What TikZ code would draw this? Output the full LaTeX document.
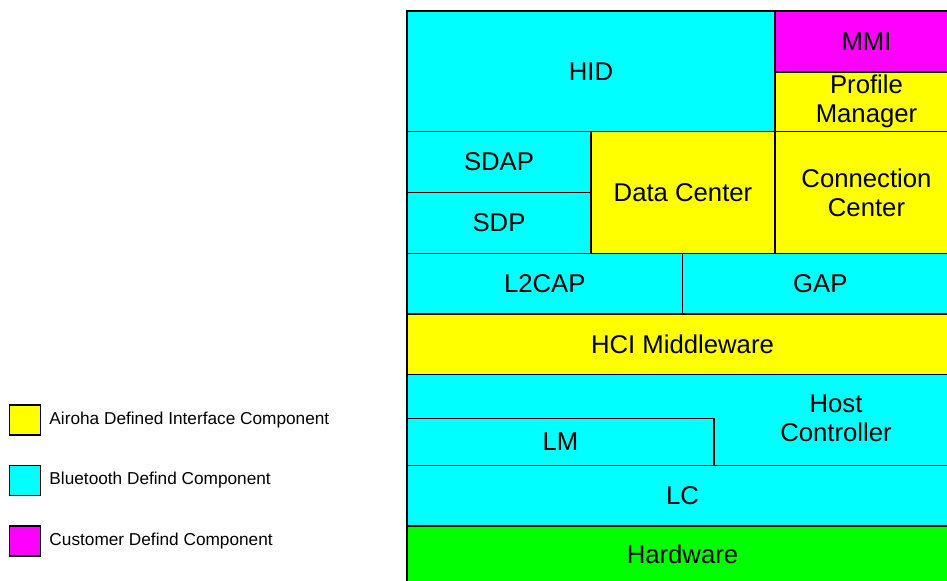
\documentclass[tikz,border=0pt]{standalone}
\usepackage{fontspec}
\setmainfont{Liberation Sans}
\definecolor{bcyan}{RGB}{0,255,255}
\definecolor{byellow}{RGB}{255,255,0}
\definecolor{bmagenta}{RGB}{255,0,255}
\definecolor{bgreen}{RGB}{0,255,0}
\tikzset{
  blk/.style={draw=black, line width=1.1bp, inner sep=0pt, outer sep=0pt, align=center,
    font=\fontsize{25.8}{29}\selectfont},
  legbox/.style={draw=black, line width=1.2bp, inner sep=0pt, minimum width=31bp, minimum height=30bp},
  legtext/.style={anchor=west, inner sep=0pt, font=\fontsize{17.3}{20}\selectfont}
}
\newcommand\blk[7]{%
  \node[blk, fill=#6, minimum width={(#4-#2)*1bp}, minimum height={(#5-#3)*1bp}]
    (#1) at ({(#2+#4)/2},{(#3+#5)/2}) {#7};}
\begin{document}
\begin{tikzpicture}[x=1bp, y=-1bp]
\useasboundingbox (0,0) rectangle (947,581);
\clip (0,0) rectangle (947,581);
\fill[white] (0,0) rectangle (947,581);
\blk{hid}{407}{11}{775}{131.5}{bcyan}{HID}
\blk{mmi}{775}{11}{958}{72}{bmagenta}{MMI}
\blk{pm}{775}{72}{958}{131.5}{byellow}{\fontsize{25.8}{26.5}\selectfont Profile\\Manager}
\blk{sdap}{407}{131.5}{591}{192.5}{bcyan}{SDAP}
\blk{sdp}{407}{192.5}{591}{253.5}{bcyan}{SDP}
\blk{dc}{591}{131.5}{775}{253.5}{byellow}{Data Center}
\blk{cc}{775}{131.5}{958}{253.5}{byellow}{Connection\\Center}
\blk{l2cap}{407}{253.5}{682.5}{314}{bcyan}{L2CAP}
\blk{gap}{682.5}{253.5}{958}{314}{bcyan}{GAP}
\blk{hci}{407}{314}{958}{374.5}{byellow}{HCI Middleware}
\blk{host}{407}{374.5}{958}{465.5}{bcyan}{}
\blk{lm}{407}{418.5}{714}{465.5}{bcyan}{LM}
\node[align=center, inner sep=0pt, font=\fontsize{25.8}{29.5}\selectfont] (hostlbl) at (836,418.5) {Host\\Controller};
\blk{lc}{407}{465.5}{958}{526}{bcyan}{LC}
\blk{hw}{407}{526}{958}{583}{bgreen}{Hardware}
% legend
\node[legbox, fill=byellow] (leg1) at (25,420) {};
\node[legtext] (leg1t) at (49.3,420) {Airoha Defined Interface Component};
\node[legbox, fill=bcyan] (leg2) at (25,480.5) {};
\node[legtext] (leg2t) at (49.3,480.5) {Bluetooth Defind Component};
\node[legbox, fill=bmagenta] (leg3) at (25,541) {};
\node[legtext] (leg3t) at (49.3,541) {Customer Defind Component};
\end{tikzpicture}
\end{document}
